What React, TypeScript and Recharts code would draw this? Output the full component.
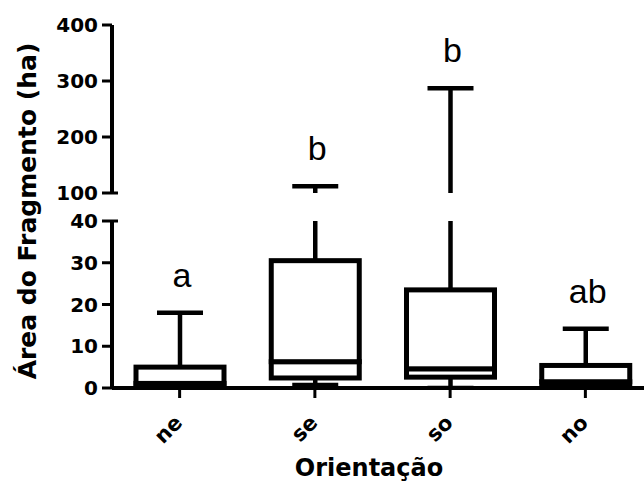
import React from 'react';
import { ComposedChart, Bar, XAxis, YAxis } from 'recharts';

const categories = ['ne', 'se', 'so', 'no'];
const minValues = [0, 0.7, 0, 0];
const q1Values = [0.3, 2.4, 2.6, 0.4];
const medianValues = [1.1, 6.3, 4.6, 1.5];
const q3Values = [5.0, 30.5, 23.5, 5.4];
const maxValues = [18, 112, 287, 14.2];
const groupLetters = ['a', 'b', 'b', 'ab'];
const lowerTicks = [0, 10, 20, 30, 40];
const upperTicks = [100, 200, 300, 400];
const lowerDomain: [number, number] = [0, 40];
const upperDomain: [number, number] = [100, 400];
const xTitle = 'Orientação';
const yTitle = 'Área do Fragmento (ha)';

const data = categories.map((cat, i) => ({
  cat,
  min: minValues[i],
  max: maxValues[i],
  base: minValues[i],
  lowWhisker: q1Values[i] - minValues[i],
  boxLow: medianValues[i] - q1Values[i],
  boxHigh: q3Values[i] - medianValues[i],
  highWhisker: maxValues[i] - q3Values[i],
  letter: groupLetters[i],
}));

const BOLD = "'DejaVu Sans', sans-serif";
const W = 661;
const H = 483;
const CAP = 23;

const inDomain = (v: number, d: [number, number]) => v >= d[0] && v <= d[1];

const Empty = () => <g />;

const BoxShape = (p: any) =>
  p.height > 0.5 ? (
    <rect x={p.x} y={p.y} width={p.width} height={p.height} fill="#fff" stroke="#000" strokeWidth={5} />
  ) : (
    <g />
  );

const makeLowWhisker = (d: [number, number]) => (p: any) => {
  const cx = p.x + p.width / 2;
  const yb = p.y + p.height;
  return (
    <g>
      {p.height > 0.5 ? <line x1={cx} x2={cx} y1={p.y} y2={yb} stroke="#000" strokeWidth={4.5} /> : null}
      {inDomain(p.payload.min, d) ? (
        <line x1={cx - CAP} x2={cx + CAP} y1={yb} y2={yb} stroke="#000" strokeWidth={4.5} />
      ) : null}
    </g>
  );
};

const makeHighWhisker = (d: [number, number]) => (p: any) => {
  const cx = p.x + p.width / 2;
  const yb = p.y + p.height;
  const show = inDomain(p.payload.max, d);
  return (
    <g>
      {p.height > 0.5 ? <line x1={cx} x2={cx} y1={p.y} y2={yb} stroke="#000" strokeWidth={4.5} /> : null}
      {show ? <line x1={cx - CAP} x2={cx + CAP} y1={p.y} y2={p.y} stroke="#000" strokeWidth={4.5} /> : null}
      {show ? (
        <text
          x={cx + 2}
          y={p.y - 26}
          textAnchor="middle"
          fontFamily="'Liberation Sans', Arial, sans-serif"
          fontSize={34}
          fill="#000"
        >
          {p.payload.letter}
        </text>
      ) : null}
    </g>
  );
};

const makeYTick = (breakValue: number) => (p: any) => {
  const axisX = p.x + 14;
  return (
    <g>
      <text
        x={p.x}
        y={p.y}
        textAnchor="end"
        dominantBaseline="central"
        fontFamily={BOLD}
        fontWeight="bold"
        fontSize={20}
        fill="#000"
      >
        {p.payload.value}
      </text>
      {p.payload.value === breakValue ? (
        <line x1={axisX} x2={axisX + 6} y1={p.y} y2={p.y} stroke="#000" strokeWidth={3} />
      ) : null}
    </g>
  );
};

const XTick = (p: any) => {
  const tx = p.x + 4;
  const ty = p.y + 24;
  return (
    <text
      x={tx}
      y={ty}
      transform={`rotate(-45 ${tx} ${ty})`}
      textAnchor="end"
      fontFamily={BOLD}
      fontWeight="bold"
      fontSize={21}
      fill="#000"
    >
      {p.payload.value}
    </text>
  );
};

const makeSeries = (d: [number, number]) => [
  <Bar key="b0" dataKey="base" stackId="s" barSize={88} shape={Empty} isAnimationActive={false} />,
  <Bar key="b1" dataKey="lowWhisker" stackId="s" barSize={88} shape={makeLowWhisker(d)} isAnimationActive={false} />,
  <Bar key="b2" dataKey="boxLow" stackId="s" barSize={88} shape={BoxShape} isAnimationActive={false} />,
  <Bar key="b3" dataKey="boxHigh" stackId="s" barSize={88} shape={BoxShape} isAnimationActive={false} />,
  <Bar key="b4" dataKey="highWhisker" stackId="s" barSize={88} shape={makeHighWhisker(d)} isAnimationActive={false} />,
];

export default function App() {
  return (
    <div
      style={{
        position: 'absolute',
        left: 0,
        top: 0,
        width: 644,
        height: 483,
        overflow: 'hidden',
        background: '#fff',
      }}
    >
      <div style={{ position: 'absolute', left: 0, top: 0 }}>
        <ComposedChart width={W} height={H} data={data} margin={{ top: 221, right: 8, bottom: 35, left: 0 }}>
          <XAxis
            dataKey="cat"
            type="category"
            interval={0}
            height={60}
            tickSize={10}
            axisLine={{ stroke: '#000', strokeWidth: 4 }}
            tickLine={{ stroke: '#000', strokeWidth: 3 }}
            tick={XTick}
            label={{
              content: () => (
                <text
                  x={369}
                  y={476}
                  textAnchor="middle"
                  fontFamily={BOLD}
                  fontWeight="bold"
                  fontSize={24}
                  fill="#000"
                >
                  {xTitle}
                </text>
              ),
            }}
          />
          <YAxis
            type="number"
            domain={lowerDomain}
            ticks={lowerTicks}
            allowDataOverflow
            width={112}
            tickSize={10}
            tickMargin={4}
            axisLine={{ stroke: '#000', strokeWidth: 4 }}
            tickLine={{ stroke: '#000', strokeWidth: 3 }}
            tick={makeYTick(40)}
            label={{
              content: () => (
                <text
                  x={36}
                  y={211}
                  transform="rotate(-90 36 211)"
                  textAnchor="middle"
                  fontFamily={BOLD}
                  fontWeight="bold"
                  fontSize={25}
                  fill="#000"
                >
                  {yTitle}
                </text>
              ),
            }}
          />
          {makeSeries(lowerDomain)}
        </ComposedChart>
      </div>
      <div style={{ position: 'absolute', left: 0, top: 0 }}>
        <ComposedChart width={W} height={H} data={data} margin={{ top: 25, right: 8, bottom: 290, left: 0 }}>
          <XAxis dataKey="cat" type="category" hide />
          <YAxis
            type="number"
            domain={upperDomain}
            ticks={upperTicks}
            allowDataOverflow
            width={112}
            tickSize={10}
            tickMargin={4}
            axisLine={{ stroke: '#000', strokeWidth: 4 }}
            tickLine={{ stroke: '#000', strokeWidth: 3 }}
            tick={makeYTick(100)}
          />
          {makeSeries(upperDomain)}
        </ComposedChart>
      </div>
    </div>
  );
}
